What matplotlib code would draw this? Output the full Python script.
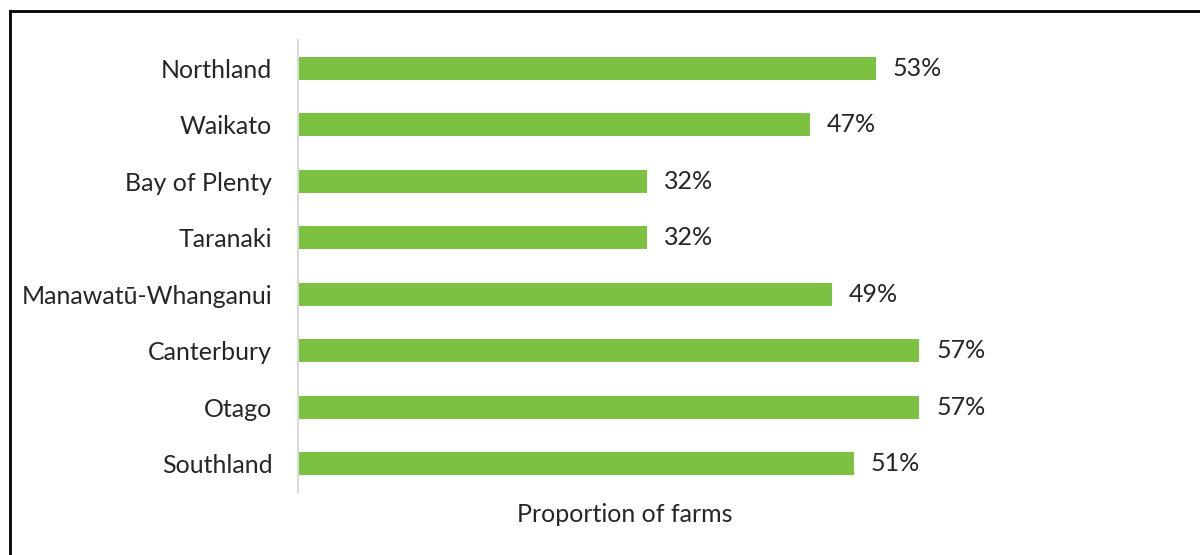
import matplotlib
matplotlib.use('Agg')
import matplotlib.pyplot as plt
from matplotlib.lines import Line2D

regions = ["Northland", "Waikato", "Bay of Plenty", "Taranaki",
           "Manawatū-Whanganui", "Canterbury", "Otago", "Southland"]
shares = [0.53, 0.47, 0.32, 0.32, 0.49, 0.57, 0.57, 0.51]

BAR = "#7DC142"
TEXT = "#262626"
FS = 18

plt.rcParams['font.family'] = ['Lato', 'DejaVu Sans']

W, H = 1200, 555
fig = plt.figure(figsize=(W / 100, H / 100), dpi=100)
ax = fig.add_axes([298 / W, (H - 492) / H, 654 / W, 452 / H])

y = list(range(len(regions)))
ax.barh(y, shares, height=0.41, color=BAR)
for yi, v in zip(y, shares):
    ax.text(v + 0.0155, yi, f"{round(v * 100)}%", va='center', ha='left',
            fontsize=FS, color=TEXT)

ax.set_xlim(0, 0.6)
ax.set_ylim(len(regions) - 0.5, -0.5)
ax.set_yticks(y)
ax.set_yticklabels(regions, fontsize=FS, color=TEXT)
ax.tick_params(axis='y', length=0, pad=18.5)
ax.set_xticks([])
for s in ['top', 'right', 'bottom']:
    ax.spines[s].set_visible(False)
ax.spines['left'].set_color('#D9D9D9')
ax.spines['left'].set_linewidth(1.5)
ax.set_xlabel("Proportion of farms", fontsize=FS, color=TEXT, labelpad=8)

# outer frame (left and top edges only visible)
fig.add_artist(Line2D([10 / W, 10 / W], [0, 1 - 11 / H], color='black', lw=2,
                      transform=fig.transFigure))
fig.add_artist(Line2D([10 / W, 1], [1 - 11 / H, 1 - 11 / H], color='black', lw=2,
                      transform=fig.transFigure))

fig.savefig("out.png", dpi=100, facecolor='white')
